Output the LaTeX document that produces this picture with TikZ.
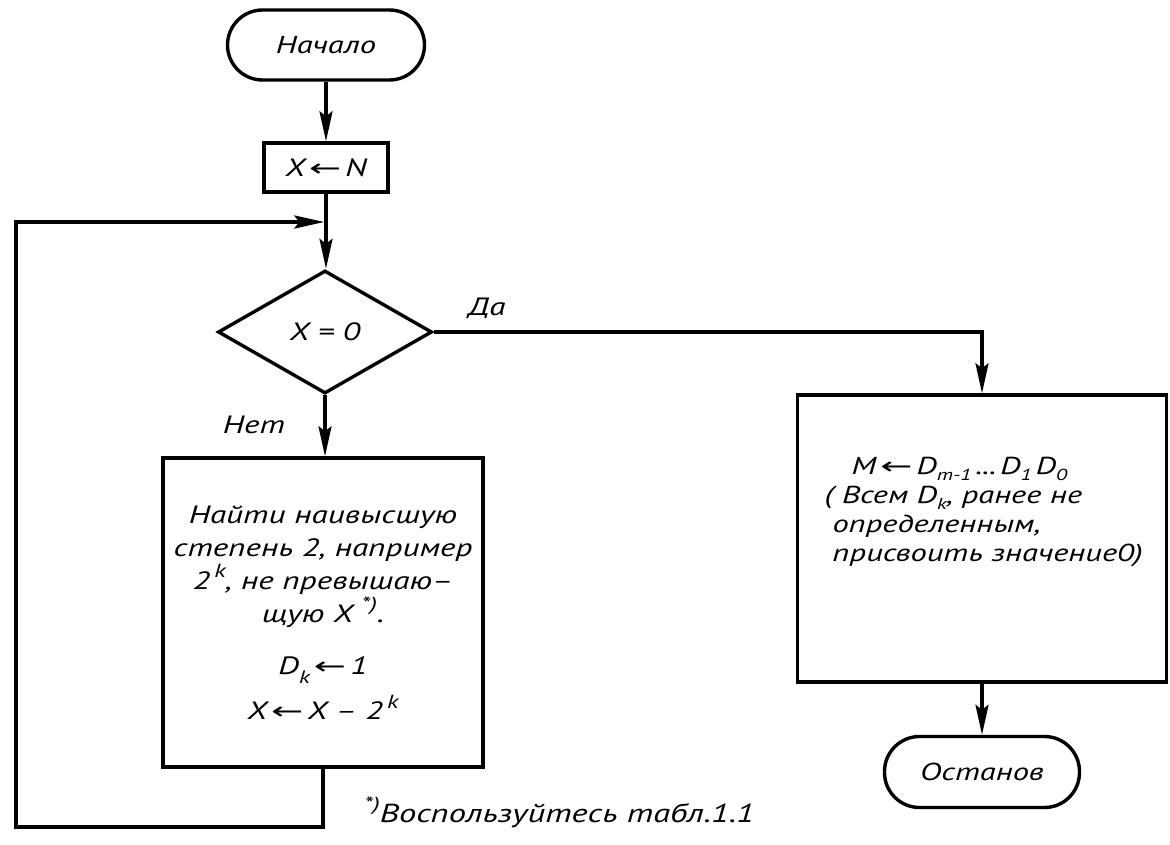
\documentclass[tikz,border=0pt]{standalone}
\usepackage{fontspec}
\setmainfont{PT Sans}[FakeStretch=1.33]
\newfontfamily\arrf{DejaVu Sans}[FakeStretch=1.6]
\usetikzlibrary{arrows.meta,shapes.geometric}
\newcommand\lar{{\arrf\fontsize{24pt}{24pt}\selectfont ←}}
\newcommand\sps[1]{\raisebox{0.45em}{\fontsize{19pt}{19pt}\selectfont #1}}
\newcommand\sbs[1]{\raisebox{-0.36em}{\fontsize{18pt}{18pt}\selectfont #1}}
\newcommand\sbr[1]{\raisebox{-0.28em}{\fontsize{16pt}{16pt}\selectfont #1}}
\begin{document}
\begin{tikzpicture}[x=1pt,y=-1pt,line width=3.4pt,
  every node/.style={font=\itshape\fontsize{25pt}{33pt}\selectfont,inner sep=0pt},
  term/.style={draw,rectangle,rounded corners=35pt,minimum width=197pt,minimum height=70pt,
    font=\itshape\fontsize{24.5pt}{28pt}\selectfont},
  proc/.style={draw,rectangle},
  decis/.style={draw,diamond,minimum width=214pt,minimum height=123pt},
  flow/.style={-{Stealth[length=30pt,width=13pt,inset=5pt]}}]
\useasboundingbox (0,0) rectangle (1170,845);
\node[term] (start) at (326,45) {Начало};
\node[proc,minimum width=124pt,minimum height=49pt] (xn) at (326,167.5) {X\,\lar\,N};
\node[decis] (dec) at (325,332) {X = 0};
\node[proc,minimum width=320pt,minimum height=309pt,align=center] (boxL) at (323,612.5)
  {Найти наивысшую\\степень 2, например\\2\,\sps{k}, не превышаю–\\щую X \sps{*)}.\\[19pt]D\sbs{k}\,\lar\,1\\[11pt]X\,\lar\,X – 2\,\sps{k}};
\node[proc,minimum width=369pt,minimum height=287pt] (boxR) at (982,538.5) {};
\node[anchor=north west,align=left,font=\itshape\fontsize{24.5pt}{29pt}\selectfont] (boxRtxt) at (823,455)
  {\hspace*{27pt}M\,\lar\,D\sbr{m-1}\,...\,D\sbr{1}\,D\sbr{0}\\( Всем D\sbr{k}, ранее не\\\hspace*{8pt}определенным,\\\hspace*{8pt}присвоить значение0)};
\node[term,minimum width=195pt,minimum height=71pt] (stop) at (982,772) {Останов};
\node[anchor=base] (yes) at (487,315) {Да};
\node[anchor=base] (no) at (254,433) {Нет};
\node[anchor=base west,font=\itshape\fontsize{26pt}{30pt}\selectfont] (fn) at (363,822) {\sps{*)}Воспользуйтесь табл.1.1};
\coordinate (merge) at (326,222);
\coordinate (lt) at (16,222);
\coordinate (lb) at (16,827);
\draw[flow] (start) -- (xn);
\draw[flow] (xn) -- (xn |- dec.north);
\draw[flow] (dec.south) -- (dec.south |- boxL.north);
\draw[flow] (dec.east) -| (boxR.north);
\draw[flow] (boxR.south) -- (stop.north);
\draw[flow,shorten >=1.7pt] (boxL.south) |- (lb) -- (lt) -- (merge);
\end{tikzpicture}
\end{document}
